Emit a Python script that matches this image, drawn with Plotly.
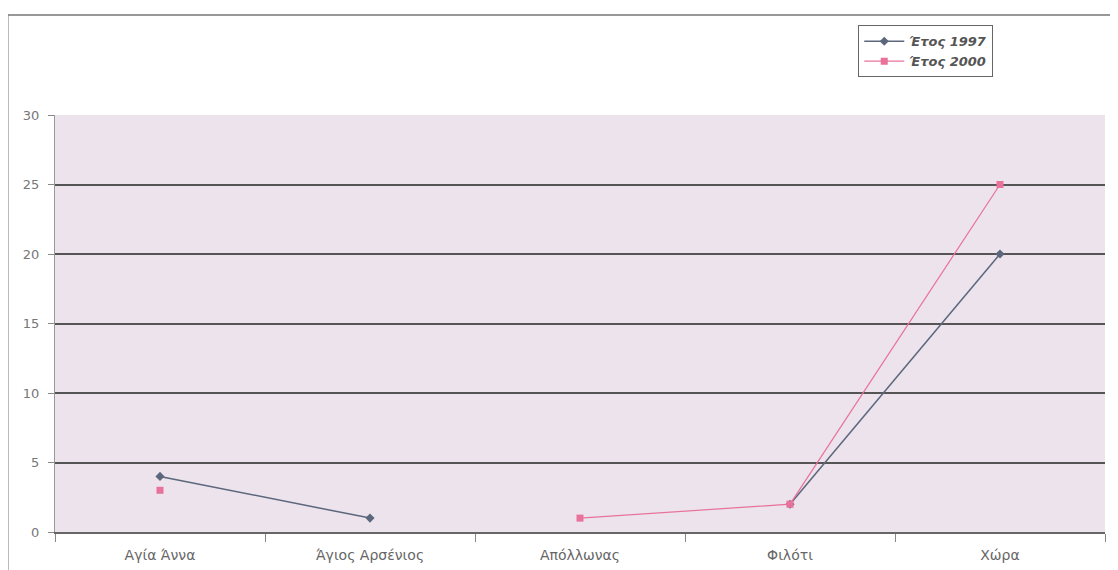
import plotly.graph_objects as go

categories = ["Αγία Άννα", "Άγιος Αρσένιος", "Απόλλωνας", "Φιλότι", "Χώρα"]
values_1997 = [4, 1, None, 2, 20]
values_2000 = [3, None, 1, 2, 25]

fig = go.Figure()

fig.add_trace(go.Scatter(
    x=categories, y=values_1997, name="Έτος 1997",
    mode="lines+markers", connectgaps=False,
    line=dict(color="#5C667C", width=1.5),
    marker=dict(symbol="diamond", size=7, color="#5C667C"),
))
fig.add_trace(go.Scatter(
    x=categories, y=values_2000, name="Έτος 2000",
    mode="lines+markers", connectgaps=False,
    line=dict(color="#E8729A", width=1.2),
    marker=dict(symbol="square", size=7, color="#E8729A"),
))

# outer chart frame
fig.add_shape(type="rect", xref="paper", yref="paper",
              x0=-0.045, x1=1.0076, y0=-0.1, y1=1.24,
              line=dict(color="#777777", width=1.5), layer="below")

fig.update_layout(
    width=1110, height=562,
    margin=dict(l=47, r=13, t=107, b=38),
    paper_bgcolor="white",
    plot_bgcolor="#ECE3EC",
    font=dict(family="DejaVu Sans, sans-serif", color="#666666"),
    showlegend=True,
    legend=dict(
        x=0.765, y=1.215, xanchor="left", yanchor="top",
        bordercolor="#666666", borderwidth=1, bgcolor="white",
        font=dict(family="DejaVu Sans, sans-serif", size=13, color="#555555",
                  style="italic", weight="bold"),
        tracegroupgap=0, itemwidth=40,
    ),
    xaxis=dict(
        type="category", tickson="boundaries", automargin=False,
        ticks="outside", ticklen=8, tickcolor="#888888",
        showgrid=False, showline=True, linecolor="#666666", linewidth=1.5,
        tickfont=dict(family="DejaVu Sans, sans-serif", size=14, color="#666666"),
        ticklabelstandoff=9,
        range=[-0.5, 4.5],
    ),
    yaxis=dict(
        range=[0, 30], dtick=5, automargin=False,
        ticks="outside", ticklen=6, tickcolor="#888888",
        showline=True, linecolor="#999999", linewidth=1,
        showgrid=True, gridcolor="#555555", gridwidth=1.5,
        zeroline=False,
        tickfont=dict(family="DejaVu Sans, sans-serif", size=13, color="#777777"),
        ticklabelstandoff=6,
    ),
)

fig.write_html("out.html")
